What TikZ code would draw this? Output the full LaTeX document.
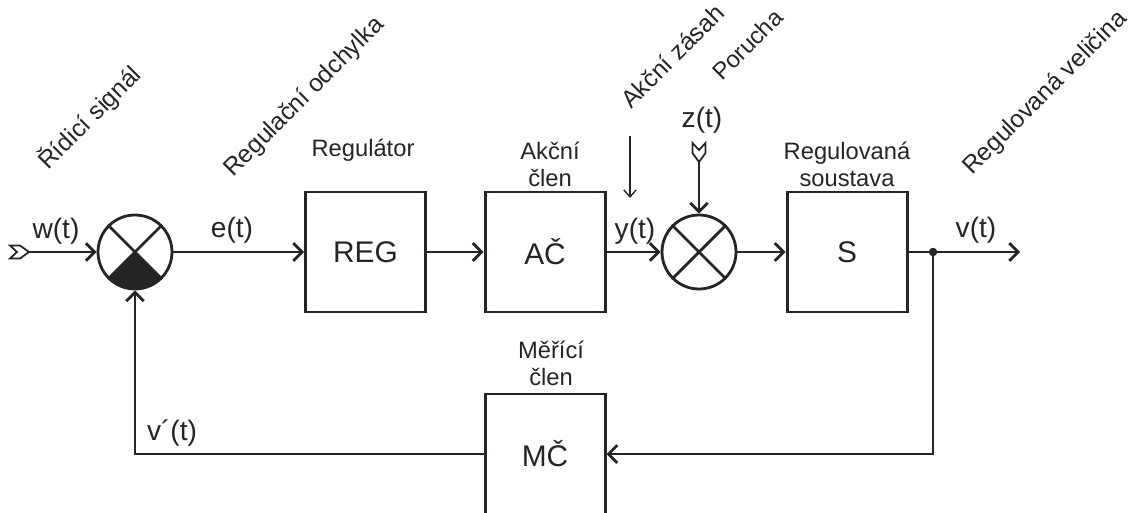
\documentclass[tikz,border=0pt]{standalone}
\usepackage{fontspec}
\setmainfont{Liberation Sans}
\usetikzlibrary{arrows.meta}
\definecolor{ink}{RGB}{38,36,36}

\begin{document}
\begin{tikzpicture}[line width=1.6pt, draw=ink, text=ink,
  blockbox/.style={draw, line width=1.7pt, minimum width=2.4cm, minimum height=2.4cm, inner sep=0pt, font=\fontsize{17}{20}\selectfont},
  sumnode/.style={circle, draw, minimum size=1.48cm, inner sep=0pt},
  sig/.style={font=\fontsize{16}{18}\selectfont},
  lbl/.style={font=\fontsize{13.5}{15.5}\selectfont, align=center},
  tilted/.style={font=\fontsize{14}{16}\selectfont, rotate=45, anchor=base west},
  flow/.style={-{Straight Barb[length=5pt,width=10pt]}},
  thinflow/.style={line width=0.8pt, -{Straight Barb[length=4pt,width=7pt]}},
  tailmark/.pic={\draw[line width=1pt, fill=white] (0,0.13) -- (0.2,0.13) -- (0.38,0) -- (0.2,-0.13) -- (0,-0.13) -- (0.14,0) -- cycle;}]
  \useasboundingbox (0,0) rectangle (22.76,10.24);

  % Summing points
  \node[sumnode] (s1) at (2.70,5.20) {};
  \fill[ink] (s1.center) -- ++(225:0.74) arc[start angle=225, end angle=315, radius=0.74] -- cycle;
  \draw (s1.north west) -- (s1.south east);
  \draw (s1.north east) -- (s1.south west);
  \node[sumnode] (s2) at (13.98,5.20) {};
  \draw (s2.north west) -- (s2.south east);
  \draw (s2.north east) -- (s2.south west);

  % Blocks
  \node[blockbox] (reg) at (7.31,5.20) {REG};
  \node[blockbox] (ac) at (10.90,5.20) {AČ};
  \node[blockbox] (s) at (16.94,5.20) {S};
  \node[blockbox] (mc) at (10.90,1.16) {MČ};

  % Block labels
  \node[lbl] (reglab) at (7.26,7.24) {Regulátor};
  \node[lbl] (aclab) at (11.00,6.96) {Akční\\člen};
  \node[lbl] (slab) at (16.94,6.96) {Regulovaná\\soustava};
  \node[lbl] (mclab) at (11.02,2.98) {Měřící\\člen};

  % Free ends
  \coordinate (win) at (0.58,5.20);
  \coordinate (zin) at (13.98,7.00);
  \coordinate (vout) at (20.40,5.20);
  \coordinate (jn) at (18.66,5.20);
  \coordinate (ua) at (12.60,7.52);
  \coordinate (ub) at (12.60,6.28);

  % Signal path
  \draw[flow] (win) -- (s1.west);
  \pic at (0.20,5.20) {tailmark};
  \draw[flow] (s1.east) -- (reg.west);
  \draw[flow] (reg.east) -- (ac.west);
  \draw[flow] (ac.east) -- (s2.west);
  \draw[flow] (zin) -- (s2.north);
  \pic[rotate=-90] at (13.98,7.38) {tailmark};
  \draw[flow] (s2.east) -- (s.west);
  \draw[flow] (s.east) -- (vout);
  \fill[ink] (jn) circle (0.085);
  % Feedback
  \draw[flow] (jn) |- (mc.east);
  \draw[flow] (mc.west) -| (s1.south);
  \draw[thinflow] (ua) -- (ub);

  % Signals
  \node[sig] (wlab) at (1.12,5.62) {w(t)};
  \node[sig] (elab) at (4.64,5.64) {e(t)};
  \node[sig] (ylab) at (12.70,5.62) {y(t)};
  \node[sig] (zlab) at (14.04,7.84) {z(t)};
  \node[sig] (vlab) at (19.52,5.64) {v(t)};
  \node[sig] (vflab) at (3.44,1.58) {v´(t)};

  % Tilted names
  \node[tilted] (t1) at (0.86,6.72) {Řídicí signál};
  \node[tilted] (t2) at (4.56,6.58) {Regulační odchylka};
  \node[tilted] (t3) at (12.52,7.94) {Akční zásah};
  \node[tilted, font=\fontsize{13.5}{15}\selectfont] (t4) at (14.34,8.50) {Porucha};
  \node[tilted] (t5) at (19.34,6.62) {Regulovaná veličina};
\end{tikzpicture}
\end{document}
